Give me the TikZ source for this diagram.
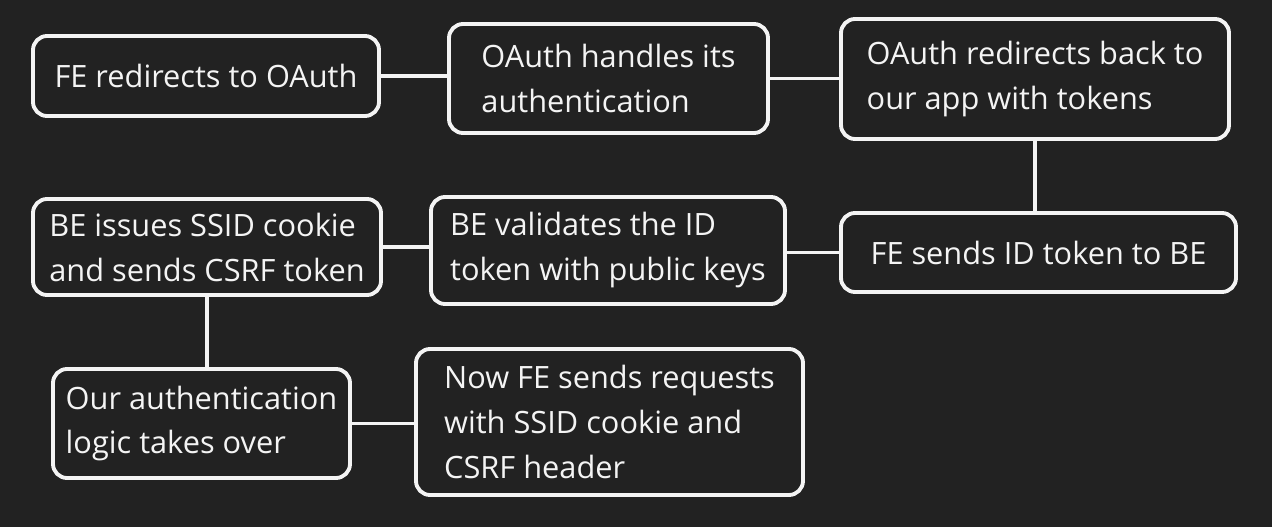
\documentclass[tikz,border=0pt]{standalone}
\usepackage{fontspec}
\setmainfont{Open Sans}
\usepackage{tikz}
\usetikzlibrary{positioning,calc}
\definecolor{bgdark}{HTML}{222222}
\definecolor{fgwhite}{HTML}{F4F4F4}

\tikzset{
  stepbox/.style={draw=fgwhite, line width=2.2pt, rounded corners=8pt,
                  text=fgwhite, align=left, inner sep=0pt,
                  font=\fontsize{17.5}{25.6}\selectfont},
  link/.style={draw=fgwhite, line width=2.2pt}
}

\begin{document}
\begin{tikzpicture}[x=0.02cm, y=-0.02cm]
  % Background
  \fill[bgdark] (0,0) rectangle (1272,527);
  \useasboundingbox (0,0) rectangle (1272,527);

  \node[stepbox, minimum width=346*0.02cm, minimum height=80*0.02cm] (redir) at (206,76) {FE redirects to OAuth};
  \node[stepbox, minimum width=319*0.02cm, minimum height=109*0.02cm] (handle) at (608.5,78.5) {OAuth handles its\\authentication};
  \node[stepbox, minimum width=388*0.02cm, minimum height=120*0.02cm] (back) at (1035,79) {OAuth redirects back to\\our app with tokens};
  \node[stepbox, minimum width=395*0.02cm, minimum height=79*0.02cm] (send) at (1038.5,252.5) {FE sends ID token to BE};
  \node[stepbox, minimum width=354*0.02cm, minimum height=107*0.02cm] (valid) at (608,250.5) {BE validates the ID\\token with public keys};
  \node[stepbox, minimum width=348*0.02cm, minimum height=96*0.02cm] (issue) at (207,247) {BE issues SSID cookie\\and sends CSRF token};
  \node[stepbox, minimum width=297*0.02cm, minimum height=109*0.02cm] (ours) at (201.5,423.5) {Our authentication\\logic takes over};
  \node[stepbox, minimum width=387*0.02cm, minimum height=146*0.02cm] (now) at (609.5,422) {Now FE sends requests\\with SSID cookie and\\CSRF header};

  % Connectors
  \draw[link] (redir.east) -- (redir.east -| handle.west);
  \draw[link] (handle.east) -- (handle.east -| back.west);
  \draw[link] (back.south) -- (back.south |- send.north);
  \draw[link] (send.west) -- (send.west -| valid.east);
  \draw[link] (issue.east) -- (issue.east -| valid.west);
  \draw[link] (issue.south) -- (issue.south |- ours.north);
  \draw[link] (ours.east) -- (ours.east -| now.west);
\end{tikzpicture}
\end{document}
